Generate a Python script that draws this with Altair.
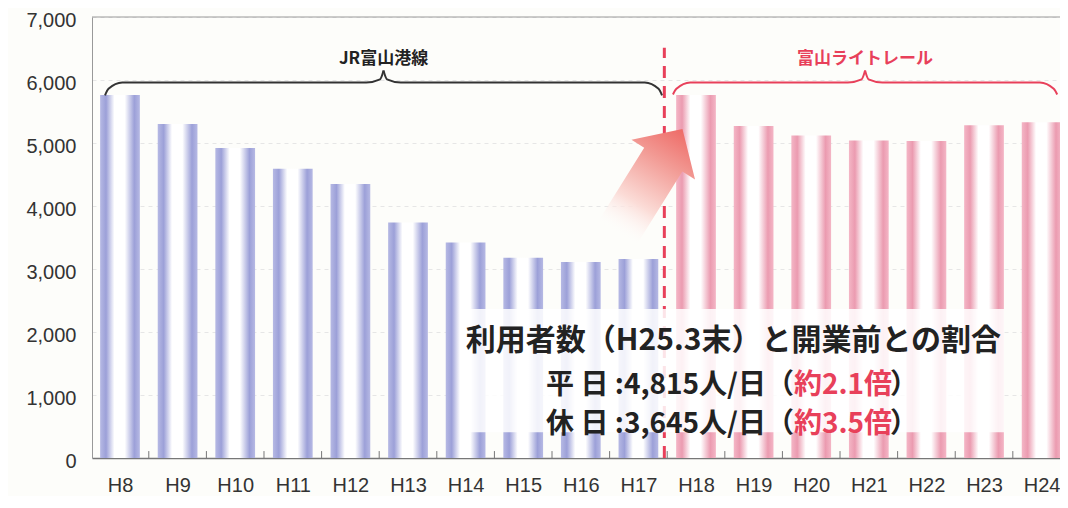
import json
import altair as alt
import pandas as pd

# ---------------- data ----------------
categories = ["H8", "H9", "H10", "H11", "H12", "H13", "H14", "H15", "H16",
              "H17", "H18", "H19", "H20", "H21", "H22", "H23", "H24"]
riders = [5760, 5300, 4920, 4590, 4350, 3740, 3420, 3180, 3110,
          3160, 5760, 5270, 5120, 5040, 5030, 5280, 5330]
operators = ["JR富山港線"] * 10 + ["富山ライトレール"] * 7
y_ticks = [0, 1000, 2000, 3000, 4000, 5000, 6000, 7000]

title_line = "利用者数（H25.3末）と開業前との割合"
weekday_black = "平 日 :4,815人/日（"
weekday_red = "約2.1倍"
holiday_black = "休 日 :3,645人/日（"
holiday_red = "約3.5倍"
close_paren = "）"

# ---------------- layout ----------------
W, H = 968, 441
XMIN, XMAX = -0.486, 16.319
BAR_HALF = 0.345
FONT_JP = "Noto Sans CJK JP"
BLUE_EDGE, BLUE = "#b6b9e4", "#9ca0d8"
PINK_EDGE, PINK = "#f4b6c6", "#eb9bb0"
RED = "#e8405a"

xs = alt.Scale(domain=[XMIN, XMAX], nice=False, zero=False)
ys = alt.Scale(domain=[0, 7000], nice=False)

label_expr = json.dumps(categories) + "[datum.value]"
X_AX = alt.Axis(values=list(range(len(categories))), labelExpr=label_expr,
                ticks=False, grid=False, domainColor="#777", domainWidth=1.5,
                labelFontSize=20, labelFont="Liberation Sans",
                labelColor="#333", labelPadding=17, title=None, labelFlush=False)
Y_AX = alt.Axis(values=y_ticks, labelExpr="format(datum.value, ',')",
                ticks=False, grid=True, labelOffset=3,
                gridColor="#e6e6e6", gridDash=[4, 4], domainColor="#999",
                labelFontSize=20, labelFont="Liberation Sans", labelColor="#333",
                labelPadding=16, title=None, labelFlush=False)


def X(field=None, datum=None):
    if datum is not None:
        return alt.X(datum=datum, scale=xs, axis=X_AX)
    return alt.X(field, scale=xs, axis=X_AX)


def Y(field=None, datum=None):
    if datum is not None:
        return alt.Y(datum=datum, scale=ys, axis=Y_AX)
    return alt.Y(field, scale=ys, axis=Y_AX)


def grad(edge, col):
    return alt.LinearGradient(
        gradient="linear", x1=0, x2=1, y1=0, y2=0,
        stops=[alt.GradientStop(offset=0, color=edge),
               alt.GradientStop(offset=0.15, color=col),
               alt.GradientStop(offset=0.36, color="#ffffff"),
               alt.GradientStop(offset=0.62, color="#ffffff"),
               alt.GradientStop(offset=0.86, color=col),
               alt.GradientStop(offset=1, color=edge)])


df = pd.DataFrame({"cat": categories, "idx": list(range(len(categories))),
                   "riders": riders, "op": operators})

bars_base = alt.Chart(df).transform_calculate(
    x0=f"datum.idx - {BAR_HALF}", x1=f"datum.idx + {BAR_HALF}")

blue_bars = bars_base.transform_filter(alt.datum.op == operators[0]).mark_rect(
    fill=grad(BLUE_EDGE, BLUE)).encode(
    x=X("x0:Q"), x2="x1:Q", y=Y("riders:Q"), y2=alt.Y2(datum=0))

pink_bars = bars_base.transform_filter(alt.datum.op == operators[-1]).mark_rect(
    fill=grad(PINK_EDGE, PINK), clip=True).encode(
    x=X("x0:Q"), x2="x1:Q", y=Y("riders:Q"), y2=alt.Y2(datum=0))

# top frame line
top_rule = alt.Chart(pd.DataFrame({"v": [7000]})).mark_rule(
    color="#999", strokeWidth=1).encode(
    y=Y("v:Q"), x=X(datum=XMIN), x2=alt.X2(datum=XMAX))

# small inward ticks between categories
tick_df = pd.DataFrame({"t": [i + 0.5 for i in range(len(categories) - 1)]})
ticks = alt.Chart(tick_df).mark_rule(color="#777", strokeWidth=1).encode(
    x=X("t:Q"), y=Y(datum=0), y2=alt.Y2(datum=110))

# divider between the two operators
split_x = 9.45
divider = alt.Chart(pd.DataFrame({"x": [split_x]})).mark_rule(
    color=RED, strokeWidth=3, strokeDash=[12, 8]).encode(
    x=X("x:Q"), y=Y(datum=0), y2=alt.Y2(datum=6510))

# translucent white box behind the summary text
box_df = pd.DataFrame({"x0": [5.9], "x1": [15.35], "y0": [410], "y1": [2365]})
box = alt.Chart(box_df).mark_rect(color="white", opacity=0.86).encode(
    x=X("x0:Q"), x2="x1:Q", y=Y("y0:Q"), y2="y1:Q")

# summary text
text_anchor = 11.70
red_width = 96
lines_df = pd.DataFrame({"x": [10.65], "y": [1860], "t": [title_line]})
line1 = alt.Chart(lines_df).mark_text(
    font=FONT_JP, fontSize=30, fontWeight="bold", color="#222",
    align="center", baseline="middle").encode(
    x=X("x:Q"), y=Y("y:Q"), text="t:N")

sub_df = pd.DataFrame({
    "x": [text_anchor, text_anchor], "y": [1135, 520],
    "black": [weekday_black, holiday_black],
    "red": [weekday_red, holiday_red],
    "close": [close_paren, close_paren]})
sub_base = alt.Chart(sub_df).encode(x=X("x:Q"), y=Y("y:Q"))
sub_black = sub_base.mark_text(font=FONT_JP, fontSize=28, fontWeight="bold",
                               color="#222", align="right",
                               baseline="middle").encode(text="black:N")
sub_red = sub_base.mark_text(font=FONT_JP, fontSize=28, fontWeight="bold",
                             color=RED, align="left",
                             baseline="middle").encode(text="red:N")
sub_close = sub_base.mark_text(font=FONT_JP, fontSize=28, fontWeight="bold",
                               color="#222", align="left", dx=red_width,
                               baseline="middle").encode(text="close:N")


# braces (curly brackets) over each operator's period
def brace(name, x0, x1, y_end, y_line, y_cusp, col):
    mid = (x0 + x1) / 2
    left = [(x0, y_end), (x0 + 0.06, y_line - 100), (x0 + 0.3, y_line),
            (mid - 0.3, y_line), (mid - 0.06, y_line + 50), (mid, y_cusp)]
    right = [(2 * mid - px, py) for px, py in reversed(left)]
    rows = []
    for part, pts in (("L", left), ("R", right)):
        for k, (px, py) in enumerate(pts):
            rows.append({"seg": name + part, "ord": k, "x": px, "y": py,
                         "col": col})
    return rows, mid


jr_rows, jr_mid = brace("jr", -0.26, 9.41, 5755, 5960, 6150, "#333333")
lrt_rows, lrt_mid = brace("lrt", 9.60, 16.27, 5770, 5960, 6150, RED)
brace_rows = jr_rows + lrt_rows
braces = alt.Chart(pd.DataFrame(brace_rows)).mark_line(
    interpolate="monotone", strokeWidth=2).encode(
    x=X("x:Q"), y=Y("y:Q"),
    detail="seg:N", order="ord:Q", color=alt.Color("col:N", scale=None))

brace_lbl = alt.Chart(pd.DataFrame({
    "x": [jr_mid, lrt_mid], "y": [6338, 6338],
    "t": [operators[0], operators[-1]], "col": ["#222222", RED]})).mark_text(
    font=FONT_JP, fontSize=17, fontWeight="bold", baseline="middle").encode(
    x=X("x:Q"), y=Y("y:Q"),
    text="t:N", color=alt.Color("col:N", scale=None))

# big faded arrow
arrow_path = ("M0,-1 L0.6,-0.42 L0.36,-0.42 L0.36,1 L-0.36,1 "
              "L-0.36,-0.42 L-0.6,-0.42 Z")
arrow_grad = alt.LinearGradient(
    gradient="linear", x1=0, x2=0, y1=0, y2=1,
    stops=[alt.GradientStop(offset=0, color="#ee6a66"),
           alt.GradientStop(offset=0.3, color="#f29a94"),
           alt.GradientStop(offset=0.7, color="#fbdcd7"),
           alt.GradientStop(offset=1, color="rgba(255,255,255,0)")])
arrow = alt.Chart(pd.DataFrame({"x": [9.19], "y": [4383]})).mark_point(
    shape=arrow_path, size=15600, angle=32, filled=True, fill=arrow_grad,
    strokeWidth=0, opacity=1).encode(x=X("x:Q"), y=Y("y:Q"))

chart = alt.layer(
    blue_bars, pink_bars, top_rule, ticks, divider, box,
    line1, sub_black, sub_red, sub_close, braces, brace_lbl, arrow
).properties(
    width=W, height=H,
    autosize=alt.AutoSizeParams(type="none"),
    padding={"left": 84, "top": 9, "right": 0, "bottom": 38},
    background="#fdfdfa"
).configure_view(stroke=None)

chart.save("out.html", embed_options={"renderer": "svg", "actions": False})
